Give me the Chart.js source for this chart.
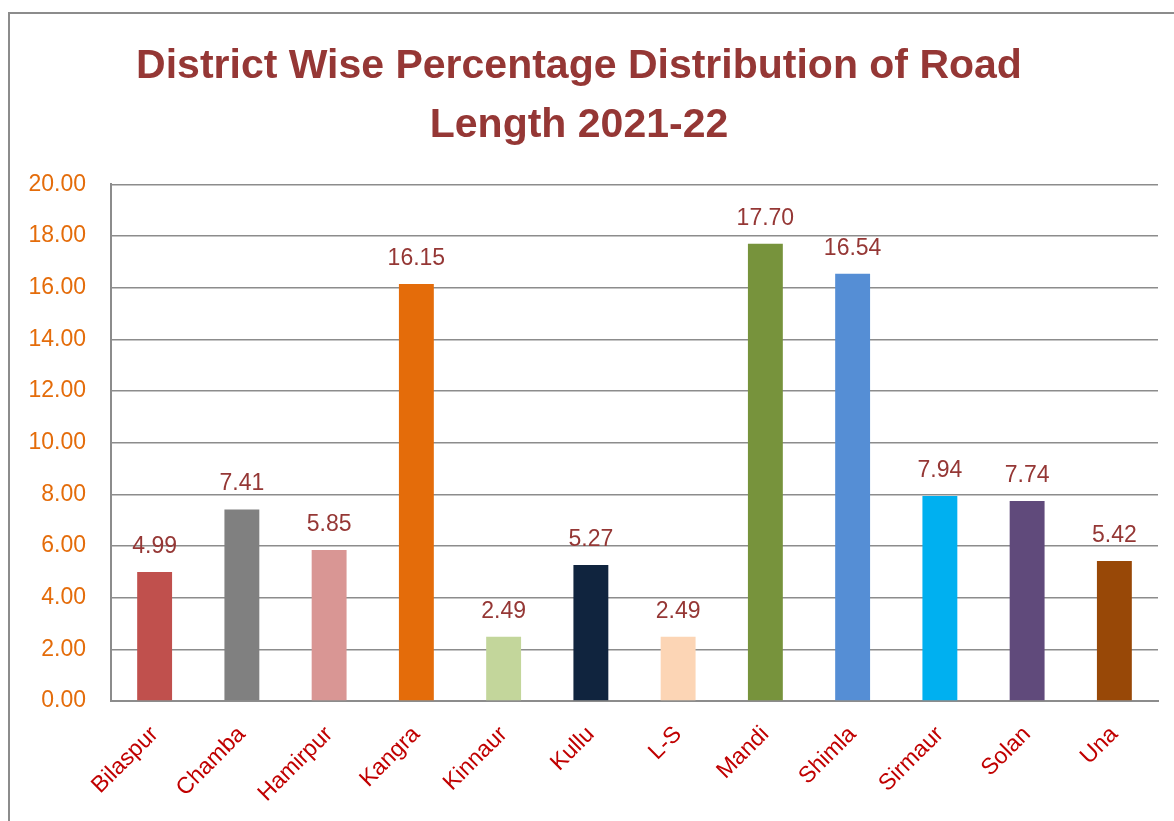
<!DOCTYPE html>
<html>
<head>
<meta charset="utf-8">
<script src="https://cdn.jsdelivr.net/npm/chart.js@4.4.0/dist/chart.umd.min.js"></script>
<style>
  html, body { margin: 0; padding: 0; background: #fff; }
  #wrap { position: relative; width: 1174px; height: 821px; }
</style>
</head>
<body>
<div id="wrap"><canvas id="roadChart" width="1174" height="821"></canvas></div>
<script>
// 数据
const districts = ['Bilaspur', 'Chamba', 'Hamirpur', 'Kangra', 'Kinnaur', 'Kullu', 'L-S', 'Mandi', 'Shimla', 'Sirmaur', 'Solan', 'Una'];
const shares = [4.99, 7.41, 5.85, 16.15, 2.49, 5.27, 2.49, 17.70, 16.54, 7.94, 7.74, 5.42];
const barColors = ['#C0504D', '#808080', '#D99694', '#E46C0A', '#C3D69B', '#10243E', '#FCD5B5', '#77933C', '#558ED5', '#00B0F0', '#604A7B', '#984807'];
const titleLines = ['District Wise Percentage Distribution of Road', 'Length 2021-22'];

const baseFont = "'Liberation Sans', Arial, sans-serif";

// 外框
const framePlugin = {
    id: 'frame',
    beforeDraw(chart) {
        const ctx = chart.ctx;
        ctx.save();
        ctx.strokeStyle = '#8c8c8c';
        ctx.lineWidth = 2;
        ctx.beginPath();
        ctx.moveTo(9, chart.height);
        ctx.lineTo(9, 13);
        ctx.lineTo(chart.width, 13);
        ctx.stroke();
        ctx.restore();
    }
};

// 数值标签
const valueLabels = {
    id: 'valueLabels',
    afterDatasetsDraw(chart) {
        const ctx = chart.ctx;
        const meta = chart.getDatasetMeta(0);
        ctx.save();
        ctx.font = '23px ' + baseFont;
        ctx.fillStyle = '#953735';
        ctx.textAlign = 'center';
        ctx.textBaseline = 'bottom';
        meta.data.forEach((bar, i) => {
            ctx.fillText(shares[i].toFixed(2), bar.x, bar.y - 14);
        });
        ctx.restore();
    }
};

const ctx = document.getElementById('roadChart').getContext('2d');
new Chart(ctx, {
    type: 'bar',
    data: {
        labels: districts,
        datasets: [{
            data: shares,
            backgroundColor: barColors,
            borderWidth: 0,
            barPercentage: 0.4,
            categoryPercentage: 1
        }]
    },
    options: {
        responsive: false,
        animation: false,
        layout: {
            padding: { left: 0, right: 16, top: 0, bottom: 0 }
        },
        plugins: {
            legend: { display: false },
            tooltip: { enabled: false },
            title: {
                display: true,
                text: titleLines,
                color: '#953735',
                font: { family: baseFont, size: 41, weight: 'bold', lineHeight: 1.42 },
                padding: { top: 38, bottom: 30 }
            }
        },
        scales: {
            x: {
                grid: { display: false, drawTicks: false },
                border: { color: '#8c8c8c', width: 2 },
                ticks: {
                    color: '#C00000',
                    font: { family: baseFont, size: 23 },
                    minRotation: 45,
                    maxRotation: 45,
                    padding: 20
                },
                afterFit(scale) { scale.height = 120; }
            },
            y: {
                min: 0,
                max: 20,
                grid: { color: '#8c8c8c', lineWidth: 1.5, drawTicks: false },
                border: { color: '#8c8c8c', width: 2 },
                ticks: {
                    stepSize: 2,
                    color: '#E46C0A',
                    font: { family: baseFont, size: 23 },
                    padding: 25,
                    callback: v => v.toFixed(2)
                },
                afterFit(scale) { scale.width = 111; }
            }
        }
    },
    plugins: [framePlugin, valueLabels]
});
</script>
</body>
</html>
